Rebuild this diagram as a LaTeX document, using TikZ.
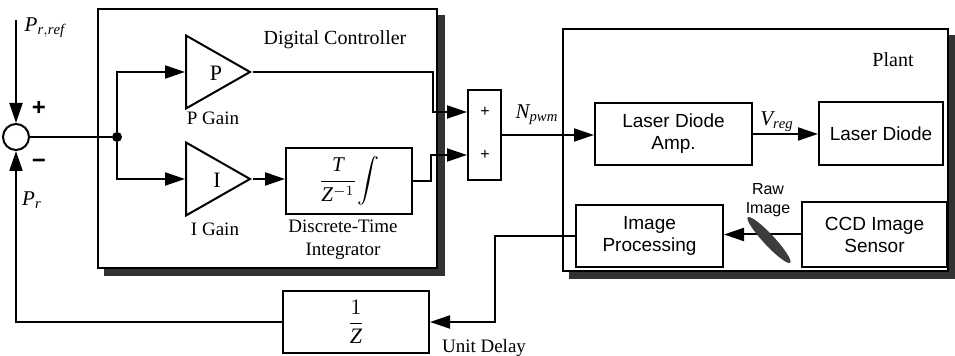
\documentclass[tikz,border=0pt]{standalone}
\usepackage{amsmath}
\usepackage{fontspec}
\setmainfont{Liberation Serif}
\setsansfont{Liberation Sans}
\usepackage{tikz}
\usetikzlibrary{positioning,calc}
\usetikzlibrary{arrows.meta,shapes.geometric,shadows}
\definecolor{ShadeGray}{RGB}{50,50,50}
\definecolor{SmearGray}{RGB}{60,60,60}
\tikzset{
  frame/.style={draw=black,fill=white,line width=0.8pt,copy shadow={shadow xshift=3.5pt,shadow yshift=-3.5pt,fill=ShadeGray,draw=ShadeGray}},
  blk/.style={draw=black,fill=white,line width=1pt,inner sep=0pt,align=center,font=\fontsize{9.5}{11}\selectfont\sffamily},
  gain/.style={isosceles triangle,isosceles triangle stretches,draw=black,fill=white,line width=1pt,inner sep=0pt,
    minimum width=36.5pt,minimum height=32pt},
  wire/.style={draw=black,line width=1pt},
  arr/.style={wire,-{Triangle[length=10pt,width=6.5pt]}},
}
\tikzset{dot/.style={circle,fill=black,inner sep=0pt,minimum size=5pt}, lbl/.style={inner sep=0pt,align=center,font=\fontsize{9.5}{11.5}\selectfont}, sig/.style={inner sep=0pt,font=\fontsize{10.5}{12}\selectfont}, sgn/.style={inner sep=0pt,font=\fontsize{12}{14}\selectfont\sffamily\bfseries}}

\begin{document}
\begin{tikzpicture}[x=0.5pt,y=-0.5pt]
\useasboundingbox (0,0) rectangle (955,356);
\node[frame,minimum width=169.5pt,minimum height=129.5pt] (ctrl) at (267.5,138.5) {};
\node[frame,minimum width=192.5pt,minimum height=121pt] (plant) at (755.5,150) {};
\node[lbl,font=\fontsize{10}{12}\selectfont] (ctrltitle) at (335,40) {Digital Controller};
\node[lbl,font=\fontsize{10}{12}\selectfont] (planttitle) at (893,60) {Plant};
\node[circle,draw=black,fill=white,line width=1pt,minimum size=13pt,inner sep=0pt] (sumc) at (16,137) {};
\coordinate (pref) at (16,20);
\node[sig] (preflbl) at (45,28) {$\mathit{P}_{\mathit{r,ref}}$};
\node[sig] (prlbl) at (32,200) {$\mathit{P}_{\mathit{r}}$};
\node[sgn] (plus) at (39,108) {+};
\node[sgn] (minus) at (39,164) {−};
\node[dot] (split) at (117,137) {};
\node[gain,anchor=west] (ptri) at (185,72) {};
\node[gain,anchor=west] (itri) at (185,179) {};
\node[sig,font=\fontsize{11}{13}\selectfont] (ptxt) at (216,73) {P};
\node[sig,font=\fontsize{11}{13}\selectfont] (itxt) at (217,180) {I};
\node[lbl] (pgainlbl) at (213,118) {P Gain};
\node[lbl] (igainlbl) at (215,229) {I Gain};
\node[blk,minimum width=63pt,minimum height=33pt,font=\fontsize{10.5}{12}\selectfont] (integ) at (349,181) {$\displaystyle\frac{\mathit{T}}{\mathit{Z}^{-1}}\!\int$};
\node[lbl] (integlbl) at (343,240) {Discrete-Time\\Integrator};
\node[blk,minimum width=16.5pt,minimum height=45pt] (addbox) at (484.5,135) {};
\node[inner sep=0pt,font=\fontsize{8}{9}\selectfont\sffamily] (plusa) at (485,112) {+};
\node[inner sep=0pt,font=\fontsize{8}{9}\selectfont\sffamily] (plusb) at (485,155) {+};
\node[sig] (npwm) at (537,115) {$\mathit{N}_{\mathit{pwm}}$};
\node[blk,minimum width=78.5pt,minimum height=31pt] (amp) at (673.5,134) {Laser Diode\\Amp.};
\node[blk,minimum width=62pt,minimum height=31.5pt] (ld) at (881,134) {Laser Diode};
\node[sig] (vreg) at (777,122) {$\mathit{V}_{\mathit{reg}}$};
\node[blk,minimum width=72.5pt,minimum height=32.5pt] (ccd) at (874.5,234.5) {CCD Image\\Sensor};
\node[blk,minimum width=73.5pt,minimum height=31pt] (imgp) at (649.5,236) {Image\\Processing};
\node[lbl,font=\fontsize{8}{9.5}\selectfont\sffamily] (rawlbl) at (768,200) {Raw\\Image};
\node[blk,minimum width=73pt,minimum height=31pt,font=\fontsize{11}{13}\selectfont] (delay) at (356,322) {$\displaystyle\frac{1}{\mathit{Z}}$};
\node[lbl] (delaylbl) at (484,348) {Unit Delay};
\draw[arr] (pref) -- (sumc.north);
\draw[wire] (sumc.east) -- (split);
\draw[arr] (split) |- (ptri.west);
\draw[arr] (split) |- (itri.west);
\draw[arr] (itri.apex) -- (integ.west |- itri.apex);
\draw[arr] (ptri.apex) -- ++(180,0) |- (addbox.west |- plusa);
\draw[arr] (integ.east) -- ++(18,0) |- (addbox.west |- plusb);
\draw[arr] (addbox.east) -- (addbox.east -| amp.west);
\draw[arr] (amp.east) -- (amp.east -| ld.west);
\draw[arr] (ccd.west) -- (ccd.west -| imgp.east);
\node[ellipse,fill=SmearGray,minimum width=31pt,minimum height=5.5pt,inner sep=0pt,rotate=-47] (smear) at (769,240) {};
\draw[arr] (imgp.west) -- ++(-80,0) |- (delay.east);
\draw[arr] (delay.west) -| (sumc.south);
\end{tikzpicture}
\end{document}
